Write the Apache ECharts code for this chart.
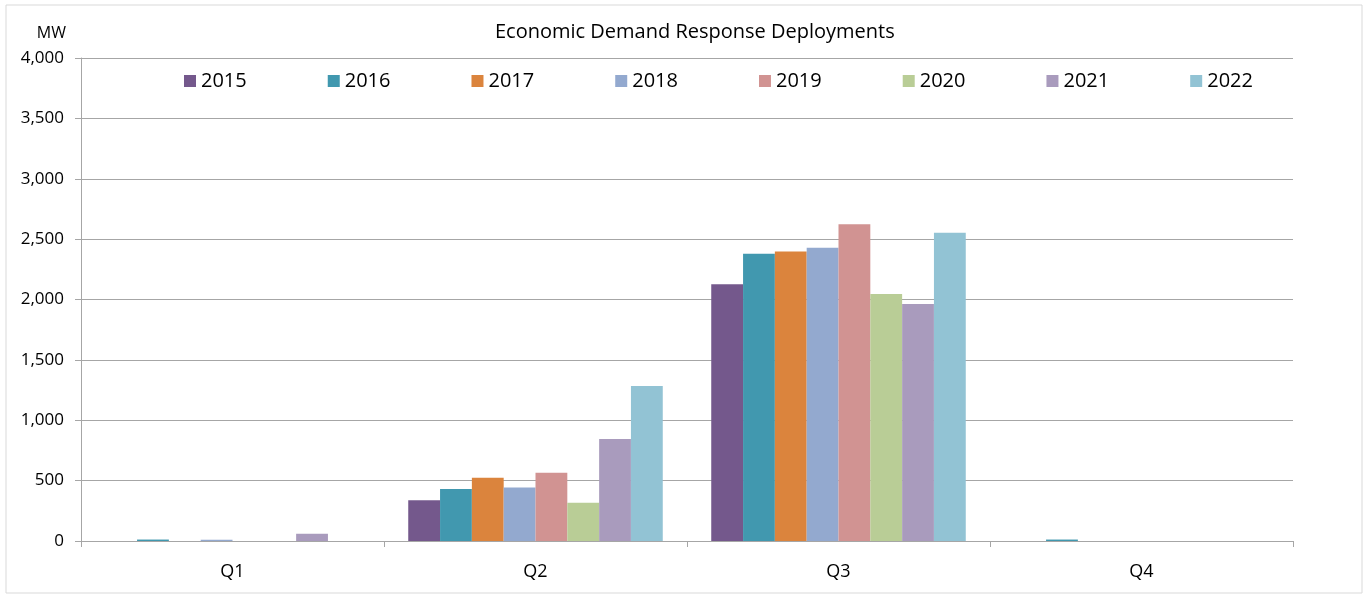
<!DOCTYPE html>
<html>
<head>
<meta charset="utf-8">
<script src="https://cdn.jsdelivr.net/npm/echarts@6/dist/echarts.min.js"></script>
<style>
  html, body { margin: 0; padding: 0; background: #fff; }
  #chart { width: 1369px; height: 597px; }
</style>
</head>
<body>
<div id="chart"></div>
<script>
// Quarterly economic demand response deployments (MW), by year
const quarters = ['Q1', 'Q2', 'Q3', 'Q4'];
const years = ['2015', '2016', '2017', '2018', '2019', '2020', '2021', '2022'];
const colors = ['#74588C', '#4198AF', '#DB843D', '#93A9CF', '#D19392', '#B9CD96', '#A99BBD', '#92C3D4'];

const mw2015 = [0, 337, 2127, 0];
const mw2016 = [12, 430, 2378, 12];
const mw2017 = [0, 524, 2398, 0];
const mw2018 = [10, 444, 2428, 0];
const mw2019 = [0, 565, 2624, 0];
const mw2020 = [0, 317, 2045, 0];
const mw2021 = [60, 844, 1962, 0];
const mw2022 = [0, 1283, 2552, 0];

const seriesValues = [mw2015, mw2016, mw2017, mw2018, mw2019, mw2020, mw2021, mw2022];

const font = '"Open Sans", "Noto Sans", sans-serif';

const chart = echarts.init(document.getElementById('chart'));
chart.setOption({
  animation: false,
  textStyle: { fontFamily: font },
  title: {
    text: 'Economic Demand Response Deployments',
    left: 490,
    top: 17,
    textStyle: { fontFamily: font, fontSize: 20, fontWeight: 'normal', color: '#000' }
  },
  legend: {
    top: 66,
    left: 179,
    itemWidth: 12,
    itemHeight: 12,
    itemGap: 81,
    icon: 'rect',
    textStyle: { fontFamily: font, fontSize: 20, color: '#000' },
    data: years
  },
  grid: { left: 81, right: 76, top: 58, bottom: 56, containLabel: false },
  graphic: [{
    type: 'rect',
    shape: { x: 6, y: 5, width: 1356, height: 588 },
    style: { fill: 'none', stroke: '#d9d9d9', lineWidth: 1 },
    silent: true
  }],
  xAxis: {
    type: 'category',
    data: quarters,
    axisLine: { lineStyle: { color: '#a6a6a6', width: 1 } },
    axisTick: { show: true, length: 6, lineStyle: { color: '#a6a6a6' } },
    axisLabel: { fontFamily: font, fontSize: 18, color: '#000', margin: 22 }
  },
  yAxis: {
    type: 'value',
    min: 0,
    max: 4000,
    interval: 500,
    name: 'MW',
    nameLocation: 'end',
    nameGap: 17,
    nameTextStyle: { fontFamily: font, fontSize: 16, color: '#000', align: 'right', padding: [0, 15, 0, 0] },
    axisLine: { show: true, lineStyle: { color: '#a6a6a6', width: 1 } },
    axisTick: { show: true, length: 6, lineStyle: { color: '#a6a6a6' } },
    splitLine: { lineStyle: { color: '#a6a6a6', width: 1 } },
    axisLabel: {
      fontFamily: font, fontSize: 17, color: '#000', margin: 17,
      formatter: v => v.toLocaleString('en-US')
    }
  },
  series: years.map((y, i) => ({
    name: y,
    type: 'bar',
    data: seriesValues[i],
    barGap: '0%',
    barCategoryGap: '16%',
    itemStyle: { color: colors[i] }
  }))
});
</script>
</body>
</html>
